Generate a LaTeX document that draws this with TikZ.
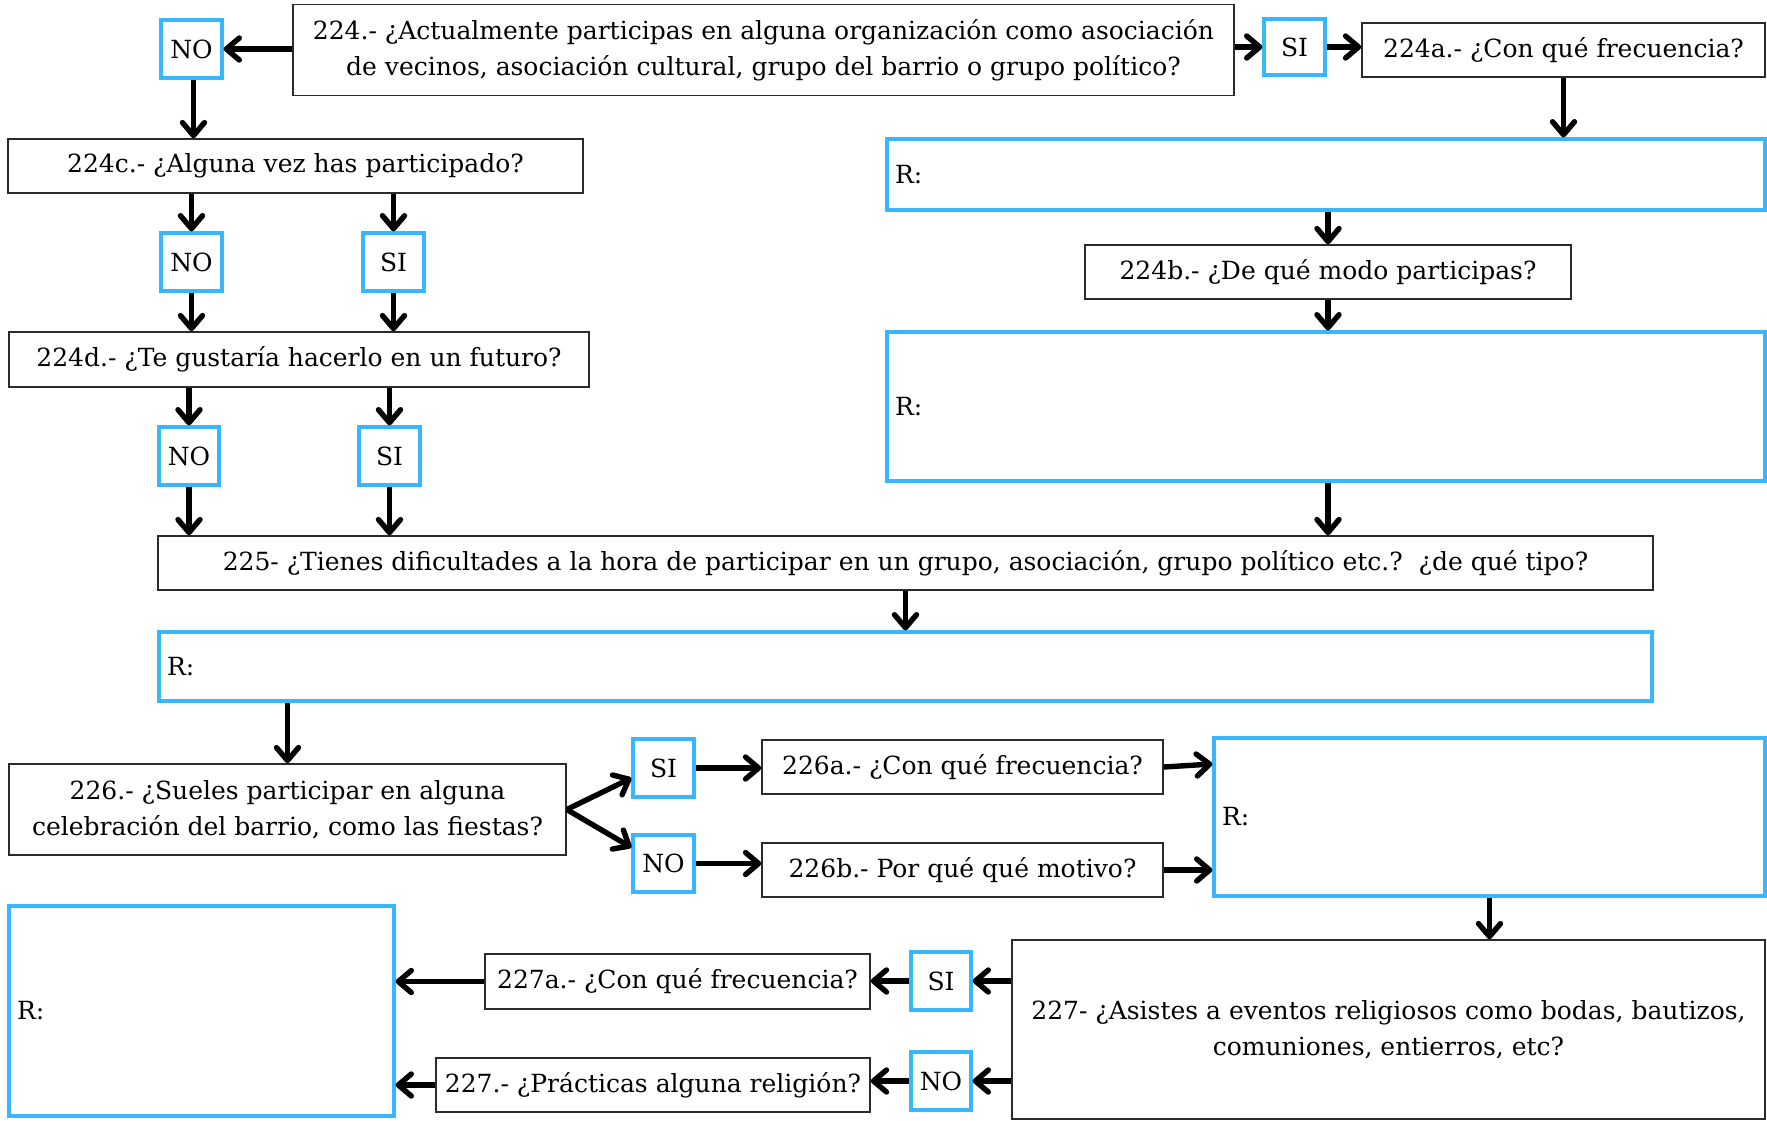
\documentclass[tikz,border=0pt]{standalone}
\usepackage{fontspec}
\setmainfont{DejaVu Serif}
\usetikzlibrary{arrows.meta}
\definecolor{skyline}{HTML}{38B6FF}
\definecolor{boxline}{HTML}{2B2B2B}
\begin{document}
\begin{tikzpicture}[x=1pt,y=-1pt,
  every node/.style={font=\fontsize{25}{36}\selectfont, inner sep=0pt, text=black},
  qbox/.style={draw=boxline, line width=1.5pt, fill=white, align=center},
  ansbox/.style={draw=skyline, line width=3.2pt, fill=white, align=center,
    minimum width=61pt, minimum height=58pt},
  rbox/.style={draw=skyline, line width=3.2pt, fill=white, align=left, inner xsep=8pt},
  flow/.style={line width=5.4pt,
    -{Straight Barb[length=13pt,width=22pt,line cap=round,line join=round]}}
]
\useasboundingbox (0,0) rectangle (1767,1120);

% question 224 and its branches
\node[qbox, minimum width=941pt, minimum height=91pt] (q224) at (763.5,50)
  {224.- ¿Actualmente participas en alguna organización como asociación\\
   de vecinos, asociación cultural, grupo del barrio o grupo político?};
\node[ansbox] (no1) at (191.5,49) {NO};
\node[ansbox, minimum height=56pt] (si1) at (1294.5,47) {SI};
\node[qbox, minimum width=403pt, minimum height=54pt] (q224a) at (1563.5,50) {224a.- ¿Con qué frecuencia?};
\node[rbox, text width=862pt, minimum height=71pt] (r1) at (1326,174.5) {R:};
\node[qbox, minimum width=486pt, minimum height=54pt] (q224b) at (1328,272) {224b.- ¿De qué modo participas?};
\node[rbox, text width=862pt, minimum height=149pt] (r2) at (1326,406.5) {R:};

\node[qbox, minimum width=575pt, minimum height=54pt] (q224c) at (295.5,166) {224c.- ¿Alguna vez has participado?};
\node[ansbox] (no2) at (191.5,262) {NO};
\node[ansbox] (si2) at (393.5,262) {SI};
\node[qbox, minimum width=580pt, minimum height=55pt] (q224d) at (299,359.5) {224d.- ¿Te gustaría hacerlo en un futuro?};
\node[ansbox, minimum width=60pt] (no3) at (189,456) {NO};
\node[ansbox] (si3) at (389.5,456) {SI};

% question 225
\node[qbox, minimum width=1495pt, minimum height=54pt] (q225) at (905.5,563)
  {225- ¿Tienes dificultades a la hora de participar en un grupo, asociación, grupo político etc.?~~¿de qué tipo?};
\node[rbox, text width=1477pt, minimum height=69pt] (r3) at (905.5,666.5) {R:};

% question 226
\node[qbox, minimum width=557pt, minimum height=91pt] (q226) at (287.5,809.5)
  {226.- ¿Sueles participar en alguna\\ celebración del barrio, como las fiestas?};
\node[ansbox] (si4) at (663.5,768) {SI};
\node[ansbox, minimum height=57pt] (no4) at (663.5,863.5) {NO};
\node[qbox, minimum width=401pt, minimum height=54pt] (q226a) at (962.5,767) {226a.- ¿Con qué frecuencia?};
\node[qbox, minimum width=401pt, minimum height=54pt] (q226b) at (962.5,870) {226b.- Por qué qué motivo?};
\node[rbox, text width=535pt, minimum height=158pt] (r4) at (1489.5,817) {R:};

% question 227
\node[qbox, minimum width=753pt, minimum height=179pt] (q227) at (1388.5,1029.5)
  {227- ¿Asistes a eventos religiosos como bodas, bautizos,\\ comuniones, entierros, etc?};
\node[ansbox, minimum width=60pt] (si5) at (941,981) {SI};
\node[ansbox, minimum width=60pt] (no5) at (941,1081) {NO};
\node[qbox, minimum width=385pt, minimum height=55pt] (q227a) at (677.5,981.5) {227a.- ¿Con qué frecuencia?};
\node[qbox, minimum width=434pt, minimum height=54pt] (q227b) at (653,1085) {227.- ¿Prácticas alguna religión?};
\node[rbox, text width=369pt, minimum height=210pt] (r5) at (201.5,1011) {R:};

% connectors
\draw[flow] (q224.west |- no1) -- (no1.east);
\draw[flow] (q224.east |- si1) -- (si1.west);
\draw[flow] (si1.east) -- (si1.east -| q224a.west);
\draw[flow] (q224a.south) -- (q224a.south |- r1.north);
\draw[flow] (r1.south -| q224b.north) -- (q224b.north);
\draw[flow] (q224b.south) -- (q224b.south |- r2.north);
\draw[flow] (r2.south -| q224b.south) -- (q224b.south |- q225.north);

\draw[flow] ([xshift=2pt]no1.south) -- ([xshift=2pt]no1.south |- q224c.north);
\draw[flow] (q224c.south -| no2.north) -- (no2.north);
\draw[flow] (q224c.south -| si2.north) -- (si2.north);
\draw[flow] (no2.south) -- (no2.south |- q224d.north);
\draw[flow] (si2.south) -- (si2.south |- q224d.north);
\draw[flow] (q224d.south -| no3.north) -- (no3.north);
\draw[flow] (q224d.south -| si3.north) -- (si3.north);
\draw[flow] (no3.south) -- (no3.south |- q225.north);
\draw[flow] (si3.south) -- (si3.south |- q225.north);

\draw[flow] (q225.south) -- (q225.south |- r3.north);
\draw[flow] (r3.south -| q226.north) -- (q226.north);

\draw[flow] (q226.east) -- ([yshift=-10pt]si4.west);
\draw[flow] (q226.east) -- ([yshift=16pt]no4.west);
\draw[flow] (si4.east) -- (si4.east -| q226a.west);
\draw[flow] (no4.east) -- (no4.east -| q226b.west);
\draw[flow] (q226a.east) -- ([yshift=3pt]q226a.east -| r4.west);
\draw[flow] (q226b.east) -- (q226b.east -| r4.west);
\draw[flow] (r4.south) -- (r4.south |- q227.north);

\draw[flow] (q227.west |- si5) -- (si5.east);
\draw[flow] (q227.west |- no5) -- (no5.east);
\draw[flow] (si5.west) -- (si5.west -| q227a.east);
\draw[flow] (no5.west) -- (no5.west -| q227b.east);
\draw[flow] (q227a.west) -- (q227a.west -| r5.east);
\draw[flow] (q227b.west) -- (q227b.west -| r5.east);
\end{tikzpicture}
\end{document}
